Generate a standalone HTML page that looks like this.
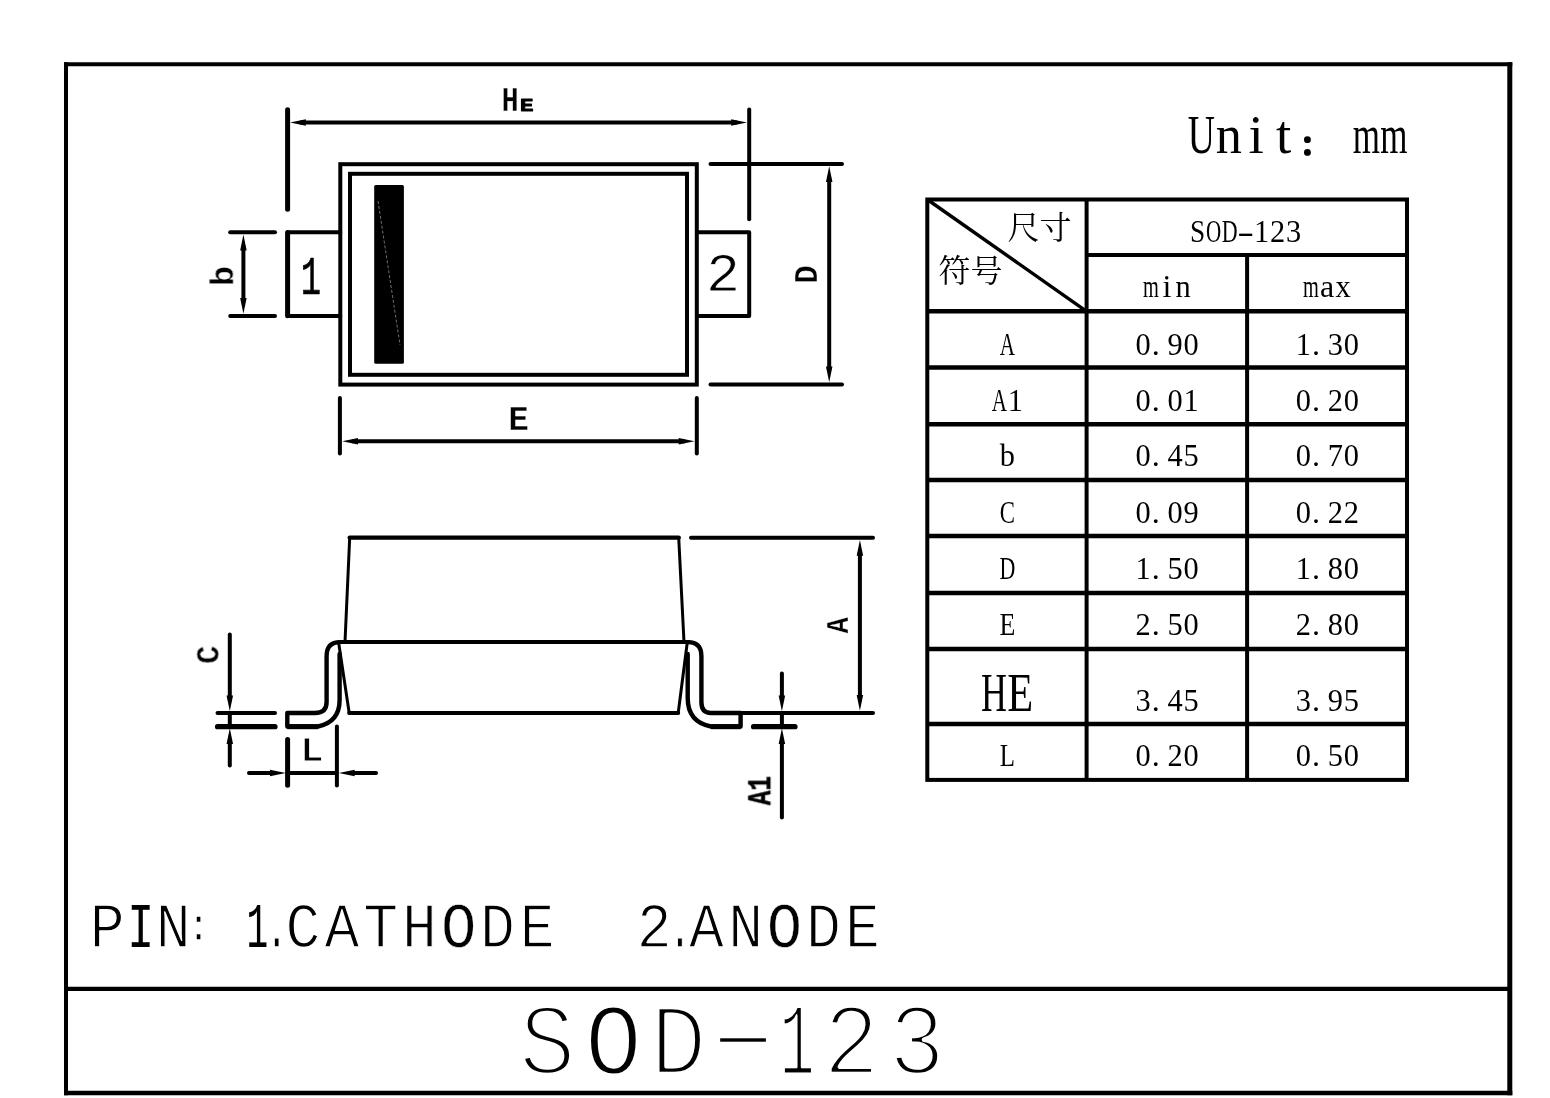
<!DOCTYPE html>
<html lang="zh">
<head>
<meta charset="utf-8">
<title>SOD-123 package outline</title>
<style>
html,body{margin:0;padding:0;background:#fff;}
body{width:1550px;height:1098px;overflow:hidden;}
svg{display:block;}
.ar{fill:#000;stroke:none;}
.ss{font-family:"Liberation Serif","Noto Serif CJK SC",serif;}
.cjk{font-family:"Liberation Serif","Noto Serif CJK SC","Noto Sans CJK SC",serif;}
.shx{font-family:"Liberation Mono","DejaVu Sans Mono",monospace;stroke:#fff;stroke-linejoin:round;}
.t1{stroke-width:0.8px;}
.t2{stroke-width:1.3px;}
.t3{stroke-width:4.4px;}
.lab.dk{stroke:#000;stroke-width:0.5px;}
.lab .sm{stroke:#000;stroke-width:0.9px;}
.t2 .o{stroke-width:0.4px;}
.t3 .o{stroke-width:2.8px;}
.t1 .n{stroke:#000;stroke-width:0.7px;}
.t2 .n{stroke:#000;stroke-width:0.2px;}
.t3 .n{stroke-width:3.2px;}
.lab{font-family:"Liberation Mono","DejaVu Sans Mono",monospace;font-weight:bold;stroke:#fff;stroke-width:0.4px;stroke-linejoin:round;}
</style>
</head>
<body>
<svg width="1550" height="1098" viewBox="0 0 1550 1098">
<rect width="1550" height="1098" fill="#fff"/>
<g stroke="#000" fill="none">
<g id="frame" stroke-linecap="square">
<line x1="66" y1="62.2" x2="66" y2="1095.2" stroke-width="4" stroke-linecap="butt" />
<line x1="1509.8" y1="62.2" x2="1509.8" y2="1095.2" stroke-width="5" stroke-linecap="butt" />
<line x1="64" y1="64.2" x2="1512.3" y2="64.2" stroke-width="4" stroke-linecap="butt" />
<line x1="64" y1="1093" x2="1512.3" y2="1093" stroke-width="4.4" stroke-linecap="butt" />
<line x1="66" y1="988.9" x2="1509.8" y2="988.9" stroke-width="4.4" stroke-linecap="butt" />
</g>
<g id="topview">
<rect x="340.3" y="164.2" width="356.5" height="220.4" stroke-width="4"/>
<rect x="350" y="173.8" width="337" height="201" stroke-width="4"/>
<rect x="374.2" y="185" width="29.7" height="178.7" rx="1.5" fill="#000" stroke="none"/>
<line x1="378" y1="201" x2="400" y2="345" stroke="#bbb" stroke-width="0.6" stroke-dasharray="3 2"/>
<path d="M340.3 232.3H287.7M287.7 316.1H340.3" stroke-width="4" stroke-linecap="round"/>
<line x1="287.6" y1="232.6" x2="287.6" y2="315.8" stroke-width="5" stroke-linecap="round" />
<path d="M696.8 232.3H749.2V316.1H696.8" stroke-width="4" stroke-linejoin="round"/>
<line x1="287.6" y1="109.8" x2="287.6" y2="209.3" stroke-width="5" stroke-linecap="round" />
<line x1="749.2" y1="109.5" x2="749.2" y2="219.2" stroke-width="4" stroke-linecap="round" />
<line x1="300" y1="122.6" x2="737" y2="122.6" stroke-width="4" stroke-linecap="butt" />
<polygon class="ar" points="290,122.6 305.8,119.35 305.8,125.85"/>
<polygon class="ar" points="747,122.6 731.2,119.35 731.2,125.85"/>
<line x1="710.5" y1="163.9" x2="842" y2="163.9" stroke-width="4" stroke-linecap="round" />
<line x1="710.5" y1="384.6" x2="842" y2="384.6" stroke-width="4" stroke-linecap="round" />
<line x1="829.2" y1="178" x2="829.2" y2="370" stroke-width="4" stroke-linecap="butt" />
<polygon class="ar" points="829.2,166.2 825.95,182 832.45,182"/>
<polygon class="ar" points="829.2,382.3 825.95,366.5 832.45,366.5"/>
<line x1="230.2" y1="232.3" x2="275" y2="232.3" stroke-width="4" stroke-linecap="round" />
<line x1="230.2" y1="316.1" x2="275" y2="316.1" stroke-width="4" stroke-linecap="round" />
<line x1="243.4" y1="246" x2="243.4" y2="302" stroke-width="4" stroke-linecap="butt" />
<polygon class="ar" points="243.4,234.6 240.15,250.4 246.65,250.4"/>
<polygon class="ar" points="243.4,313.8 240.15,298 246.65,298"/>
<line x1="339.9" y1="398" x2="339.9" y2="453.6" stroke-width="4" stroke-linecap="round" />
<line x1="696.8" y1="398" x2="696.8" y2="453.6" stroke-width="4" stroke-linecap="round" />
<line x1="352" y1="441.2" x2="685" y2="441.2" stroke-width="4" stroke-linecap="butt" />
<polygon class="ar" points="342.2,441.2 358,437.95 358,444.45"/>
<polygon class="ar" points="694.5,441.2 678.7,437.95 678.7,444.45"/>
</g>
<g id="sideview">
<line x1="349.7" y1="537.6" x2="678.7" y2="537.6" stroke-width="4.4" stroke-linecap="round" />
<line x1="349.7" y1="537.5" x2="345" y2="642" stroke-width="3" stroke-linecap="round" />
<line x1="678.7" y1="537.5" x2="684" y2="642" stroke-width="3" stroke-linecap="round" />
<line x1="338" y1="642.1" x2="690" y2="642.1" stroke-width="4" stroke-linecap="butt" />
<line x1="338.7" y1="643" x2="349.2" y2="713" stroke-width="3" stroke-linecap="round" />
<line x1="687.2" y1="643" x2="678.2" y2="713" stroke-width="3" stroke-linecap="round" />
<line x1="349.2" y1="713" x2="678.2" y2="713" stroke-width="4" stroke-linecap="round" />
<path d="M340 642.1 Q326.6 642.1 326.6 656 V702 Q326.6 713 315 713 H287.3 V726.5 H318 Q339.6 722 339.6 700 V654" stroke-width="4.4" stroke-linejoin="round" stroke-linecap="round"/>
<path d="M688 642.1 Q701.4 642.1 701.4 656 V702 Q701.4 713 711 713 H740.6 V726.5 H711 Q687.7 722 687.7 698 V654" stroke-width="4.4" stroke-linejoin="round" stroke-linecap="round"/>
<line x1="287.3" y1="726.7" x2="318" y2="726.7" stroke-width="5" stroke-linecap="butt" />
<line x1="711" y1="726.7" x2="740.6" y2="726.7" stroke-width="5" stroke-linecap="butt" />
<line x1="691" y1="537.7" x2="873" y2="537.7" stroke-width="4" stroke-linecap="round" />
<line x1="740.6" y1="713" x2="873" y2="713" stroke-width="4" stroke-linecap="round" />
<line x1="859.9" y1="552" x2="859.9" y2="698" stroke-width="4" stroke-linecap="butt" />
<polygon class="ar" points="859.9,540 856.65,555.8 863.15,555.8"/>
<polygon class="ar" points="859.9,710.7 856.65,694.9 863.15,694.9"/>
<line x1="217.5" y1="713" x2="275" y2="713" stroke-width="4" stroke-linecap="round" />
<line x1="217.5" y1="726.7" x2="275" y2="726.7" stroke-width="5.2" stroke-linecap="round" />
<line x1="229.8" y1="634.5" x2="229.8" y2="700" stroke-width="4" stroke-linecap="round" />
<line x1="229.8" y1="713" x2="229.8" y2="726.5" stroke-width="4" stroke-linecap="butt" />
<line x1="229.8" y1="740" x2="229.8" y2="765.5" stroke-width="4" stroke-linecap="round" />
<polygon class="ar" points="229.8,711.2 226.55,695.4 233.05,695.4"/>
<polygon class="ar" points="229.8,728.3 226.55,744.1 233.05,744.1"/>
<line x1="287.6" y1="739.5" x2="287.6" y2="785.2" stroke-width="5" stroke-linecap="round" />
<line x1="336.9" y1="726.5" x2="336.9" y2="785.6" stroke-width="4" stroke-linecap="round" />
<line x1="249" y1="772.9" x2="272" y2="772.9" stroke-width="4" stroke-linecap="round" />
<line x1="287.6" y1="772.9" x2="336.9" y2="772.9" stroke-width="4" stroke-linecap="butt" />
<line x1="352" y1="772.9" x2="376" y2="772.9" stroke-width="4" stroke-linecap="round" />
<polygon class="ar" points="285.8,772.9 270,769.65 270,776.15"/>
<polygon class="ar" points="338.8,772.9 354.6,769.65 354.6,776.15"/>
<line x1="753.5" y1="726.7" x2="795" y2="726.7" stroke-width="5.2" stroke-linecap="round" />
<line x1="781.9" y1="673.5" x2="781.9" y2="700" stroke-width="4" stroke-linecap="round" />
<line x1="781.9" y1="713" x2="781.9" y2="726.5" stroke-width="4" stroke-linecap="butt" />
<line x1="781.9" y1="741" x2="781.9" y2="817.6" stroke-width="4" stroke-linecap="round" />
<polygon class="ar" points="781.9,711.2 778.65,695.4 785.15,695.4"/>
<polygon class="ar" points="781.9,728.3 778.65,744.1 785.15,744.1"/>
</g>
<g id="table" stroke-width="4" stroke-linecap="square">
<rect x="927.3" y="199.5" width="479.7" height="580.4"/>
<line x1="1086.6" y1="199.5" x2="1086.6" y2="779.9" stroke-width="4" stroke-linecap="butt" />
<line x1="1247.1" y1="254.9" x2="1247.1" y2="779.9" stroke-width="4" stroke-linecap="butt" />
<line x1="1086.6" y1="254.9" x2="1407" y2="254.9" stroke-width="4" stroke-linecap="butt" />
<line x1="927.3" y1="311.3" x2="1407" y2="311.3" stroke-width="4.5" stroke-linecap="butt" />
<line x1="927.3" y1="367.6" x2="1407" y2="367.6" stroke-width="4.5" stroke-linecap="butt" />
<line x1="927.3" y1="424.2" x2="1407" y2="424.2" stroke-width="4.5" stroke-linecap="butt" />
<line x1="927.3" y1="479.9" x2="1407" y2="479.9" stroke-width="4.5" stroke-linecap="butt" />
<line x1="927.3" y1="536.1" x2="1407" y2="536.1" stroke-width="4.5" stroke-linecap="butt" />
<line x1="927.3" y1="593" x2="1407" y2="593" stroke-width="4.5" stroke-linecap="butt" />
<line x1="927.3" y1="649" x2="1407" y2="649" stroke-width="4.5" stroke-linecap="butt" />
<line x1="927.3" y1="723.9" x2="1407" y2="723.9" stroke-width="4.5" stroke-linecap="butt" />
<line x1="927.3" y1="199.5" x2="1086.6" y2="311.3" stroke-width="3.4" stroke-linecap="butt" />
</g>
</g>
<g fill="#000" style="opacity:.999">
<text class="ss" font-size="55"><tspan x="1187.64" y="153.2" textLength="27.23" lengthAdjust="spacingAndGlyphs">U</tspan><tspan x="1215.69" y="153.2" textLength="26.12" lengthAdjust="spacingAndGlyphs">n</tspan><tspan x="1248.61" y="153.2">i</tspan><tspan x="1276.11" y="153.2">t</tspan><tspan class="cjk" font-weight="700" stroke="#000" stroke-width="1.48" font-size="30.53" x="1299.24" y="155.18">：</tspan><tspan x="1352.64" y="153.2" textLength="27.23" lengthAdjust="spacingAndGlyphs">m</tspan><tspan x="1380.14" y="153.2" textLength="27.23" lengthAdjust="spacingAndGlyphs">m</tspan></text>
<text class="cjk" font-size="32" x="1007.5" y="239">尺寸</text>
<text class="cjk" font-size="32" x="938.5" y="281.5">符号</text>
<text class="ss" font-size="32"><tspan x="1190" y="242.4" textLength="15.2" lengthAdjust="spacingAndGlyphs">S</tspan><tspan x="1206" y="242.4" textLength="15.2" lengthAdjust="spacingAndGlyphs">O</tspan><tspan x="1221.68" y="242.4" textLength="15.84" lengthAdjust="spacingAndGlyphs">D</tspan><tspan x="1237.2" y="242.4" textLength="16.8" lengthAdjust="spacingAndGlyphs">-</tspan><tspan x="1254" y="242.4" textLength="15.2" lengthAdjust="spacingAndGlyphs">1</tspan><tspan x="1270" y="242.4" textLength="15.2" lengthAdjust="spacingAndGlyphs">2</tspan><tspan x="1286" y="242.4" textLength="15.2" lengthAdjust="spacingAndGlyphs">3</tspan></text>
<text class="ss" font-size="32"><tspan x="1143.08" y="297.2" textLength="15.84" lengthAdjust="spacingAndGlyphs">m</tspan><tspan x="1162.55" y="297.2">i</tspan><tspan x="1175.4" y="297.2" textLength="15.2" lengthAdjust="spacingAndGlyphs">n</tspan></text>
<text class="ss" font-size="32"><tspan x="1303.08" y="297.2" textLength="15.84" lengthAdjust="spacingAndGlyphs">m</tspan><tspan x="1319.9" y="297.2">a</tspan><tspan x="1335.4" y="297.2" textLength="15.2" lengthAdjust="spacingAndGlyphs">x</tspan></text>
<text class="ss" font-size="32"><tspan x="999.7" y="354.7" textLength="15.2" lengthAdjust="spacingAndGlyphs">A</tspan></text>
<text class="ss" font-size="32"><tspan x="1135.4" y="354.7" textLength="15.2" lengthAdjust="spacingAndGlyphs">0</tspan><tspan x="1151.8" y="354.7">.</tspan><tspan x="1167.4" y="354.7" textLength="15.2" lengthAdjust="spacingAndGlyphs">9</tspan><tspan x="1183.4" y="354.7" textLength="15.2" lengthAdjust="spacingAndGlyphs">0</tspan></text>
<text class="ss" font-size="32"><tspan x="1295.7" y="354.7" textLength="15.2" lengthAdjust="spacingAndGlyphs">1</tspan><tspan x="1312.1" y="354.7">.</tspan><tspan x="1327.7" y="354.7" textLength="15.2" lengthAdjust="spacingAndGlyphs">3</tspan><tspan x="1343.7" y="354.7" textLength="15.2" lengthAdjust="spacingAndGlyphs">0</tspan></text>
<text class="ss" font-size="32"><tspan x="991.7" y="410.5" textLength="15.2" lengthAdjust="spacingAndGlyphs">A</tspan><tspan x="1007.7" y="410.5" textLength="15.2" lengthAdjust="spacingAndGlyphs">1</tspan></text>
<text class="ss" font-size="32"><tspan x="1135.4" y="410.5" textLength="15.2" lengthAdjust="spacingAndGlyphs">0</tspan><tspan x="1151.8" y="410.5">.</tspan><tspan x="1167.4" y="410.5" textLength="15.2" lengthAdjust="spacingAndGlyphs">0</tspan><tspan x="1183.4" y="410.5" textLength="15.2" lengthAdjust="spacingAndGlyphs">1</tspan></text>
<text class="ss" font-size="32"><tspan x="1295.7" y="410.5" textLength="15.2" lengthAdjust="spacingAndGlyphs">0</tspan><tspan x="1312.1" y="410.5">.</tspan><tspan x="1327.7" y="410.5" textLength="15.2" lengthAdjust="spacingAndGlyphs">2</tspan><tspan x="1343.7" y="410.5" textLength="15.2" lengthAdjust="spacingAndGlyphs">0</tspan></text>
<text class="ss" font-size="32"><tspan x="999.7" y="466.4" textLength="15.2" lengthAdjust="spacingAndGlyphs">b</tspan></text>
<text class="ss" font-size="32"><tspan x="1135.4" y="466.4" textLength="15.2" lengthAdjust="spacingAndGlyphs">0</tspan><tspan x="1151.8" y="466.4">.</tspan><tspan x="1167.4" y="466.4" textLength="15.2" lengthAdjust="spacingAndGlyphs">4</tspan><tspan x="1183.4" y="466.4" textLength="15.2" lengthAdjust="spacingAndGlyphs">5</tspan></text>
<text class="ss" font-size="32"><tspan x="1295.7" y="466.4" textLength="15.2" lengthAdjust="spacingAndGlyphs">0</tspan><tspan x="1312.1" y="466.4">.</tspan><tspan x="1327.7" y="466.4" textLength="15.2" lengthAdjust="spacingAndGlyphs">7</tspan><tspan x="1343.7" y="466.4" textLength="15.2" lengthAdjust="spacingAndGlyphs">0</tspan></text>
<text class="ss" font-size="32"><tspan x="999.7" y="522.8" textLength="15.2" lengthAdjust="spacingAndGlyphs">C</tspan></text>
<text class="ss" font-size="32"><tspan x="1135.4" y="522.8" textLength="15.2" lengthAdjust="spacingAndGlyphs">0</tspan><tspan x="1151.8" y="522.8">.</tspan><tspan x="1167.4" y="522.8" textLength="15.2" lengthAdjust="spacingAndGlyphs">0</tspan><tspan x="1183.4" y="522.8" textLength="15.2" lengthAdjust="spacingAndGlyphs">9</tspan></text>
<text class="ss" font-size="32"><tspan x="1295.7" y="522.8" textLength="15.2" lengthAdjust="spacingAndGlyphs">0</tspan><tspan x="1312.1" y="522.8">.</tspan><tspan x="1327.7" y="522.8" textLength="15.2" lengthAdjust="spacingAndGlyphs">2</tspan><tspan x="1343.7" y="522.8" textLength="15.2" lengthAdjust="spacingAndGlyphs">2</tspan></text>
<text class="ss" font-size="32"><tspan x="999.38" y="579" textLength="15.84" lengthAdjust="spacingAndGlyphs">D</tspan></text>
<text class="ss" font-size="32"><tspan x="1135.4" y="579" textLength="15.2" lengthAdjust="spacingAndGlyphs">1</tspan><tspan x="1151.8" y="579">.</tspan><tspan x="1167.4" y="579" textLength="15.2" lengthAdjust="spacingAndGlyphs">5</tspan><tspan x="1183.4" y="579" textLength="15.2" lengthAdjust="spacingAndGlyphs">0</tspan></text>
<text class="ss" font-size="32"><tspan x="1295.7" y="579" textLength="15.2" lengthAdjust="spacingAndGlyphs">1</tspan><tspan x="1312.1" y="579">.</tspan><tspan x="1327.7" y="579" textLength="15.2" lengthAdjust="spacingAndGlyphs">8</tspan><tspan x="1343.7" y="579" textLength="15.2" lengthAdjust="spacingAndGlyphs">0</tspan></text>
<text class="ss" font-size="32"><tspan x="999.38" y="635.1" textLength="15.84" lengthAdjust="spacingAndGlyphs">E</tspan></text>
<text class="ss" font-size="32"><tspan x="1135.4" y="635.1" textLength="15.2" lengthAdjust="spacingAndGlyphs">2</tspan><tspan x="1151.8" y="635.1">.</tspan><tspan x="1167.4" y="635.1" textLength="15.2" lengthAdjust="spacingAndGlyphs">5</tspan><tspan x="1183.4" y="635.1" textLength="15.2" lengthAdjust="spacingAndGlyphs">0</tspan></text>
<text class="ss" font-size="32"><tspan x="1295.7" y="635.1" textLength="15.2" lengthAdjust="spacingAndGlyphs">2</tspan><tspan x="1312.1" y="635.1">.</tspan><tspan x="1327.7" y="635.1" textLength="15.2" lengthAdjust="spacingAndGlyphs">8</tspan><tspan x="1343.7" y="635.1" textLength="15.2" lengthAdjust="spacingAndGlyphs">0</tspan></text>
<text class="ss" font-size="32"><tspan x="1135.4" y="710.6" textLength="15.2" lengthAdjust="spacingAndGlyphs">3</tspan><tspan x="1151.8" y="710.6">.</tspan><tspan x="1167.4" y="710.6" textLength="15.2" lengthAdjust="spacingAndGlyphs">4</tspan><tspan x="1183.4" y="710.6" textLength="15.2" lengthAdjust="spacingAndGlyphs">5</tspan></text>
<text class="ss" font-size="32"><tspan x="1295.7" y="710.6" textLength="15.2" lengthAdjust="spacingAndGlyphs">3</tspan><tspan x="1312.1" y="710.6">.</tspan><tspan x="1327.7" y="710.6" textLength="15.2" lengthAdjust="spacingAndGlyphs">9</tspan><tspan x="1343.7" y="710.6" textLength="15.2" lengthAdjust="spacingAndGlyphs">5</tspan></text>
<text class="ss" font-size="32"><tspan x="999.7" y="766.3" textLength="15.2" lengthAdjust="spacingAndGlyphs">L</tspan></text>
<text class="ss" font-size="32"><tspan x="1135.4" y="766.3" textLength="15.2" lengthAdjust="spacingAndGlyphs">0</tspan><tspan x="1151.8" y="766.3">.</tspan><tspan x="1167.4" y="766.3" textLength="15.2" lengthAdjust="spacingAndGlyphs">2</tspan><tspan x="1183.4" y="766.3" textLength="15.2" lengthAdjust="spacingAndGlyphs">0</tspan></text>
<text class="ss" font-size="32"><tspan x="1295.7" y="766.3" textLength="15.2" lengthAdjust="spacingAndGlyphs">0</tspan><tspan x="1312.1" y="766.3">.</tspan><tspan x="1327.7" y="766.3" textLength="15.2" lengthAdjust="spacingAndGlyphs">5</tspan><tspan x="1343.7" y="766.3" textLength="15.2" lengthAdjust="spacingAndGlyphs">0</tspan></text>
<text class="ss" font-size="54"><tspan x="980.93" y="711.2" textLength="25.94" lengthAdjust="spacingAndGlyphs">H</tspan><tspan x="1007.13" y="711.2" textLength="25.94" lengthAdjust="spacingAndGlyphs">E</tspan></text>
<text class="shx t1" font-size="54.5"><tspan x="300.86" y="294.2" textLength="20.28" lengthAdjust="spacingAndGlyphs" class="n">1</tspan></text>
<text class="shx t1" font-size="53.5"><tspan x="705.98" y="291" textLength="34.03" lengthAdjust="spacingAndGlyphs">2</tspan></text>
<text class="lab"><tspan font-size="35.2" x="501.54" y="111.3" textLength="17.32" lengthAdjust="spacingAndGlyphs">H</tspan><tspan class="sm" font-size="18" x="519.95" y="111.2" textLength="13.5" lengthAdjust="spacingAndGlyphs">E</tspan></text>
<text class="lab" font-size="34.5" text-anchor="middle" transform="translate(518.5,429.8) scale(1,1)">E</text>
<text class="lab" font-size="34" text-anchor="middle" transform="translate(233.3,276) rotate(-90) scale(1,1)">b</text>
<text class="lab" font-size="34" text-anchor="middle" transform="translate(817.3,274.5) rotate(-90) scale(0.9,1)">D</text>
<text class="lab" font-size="32" text-anchor="middle" transform="translate(847.7,625.4) rotate(-90) scale(0.85,1)">A</text>
<text class="lab" font-size="34" text-anchor="middle" transform="translate(218.7,654.8) rotate(-90) scale(0.9,1)">C</text>
<text class="lab" style="stroke-width:1.1px" font-size="35.4" text-anchor="middle" transform="translate(312,761.3) scale(1.12,1)">L</text>
<text class="lab dk" font-size="33" text-anchor="middle" transform="translate(770.3,790.7) rotate(-90) scale(0.74,1)">A1</text>
<text class="shx t2" font-size="63.2"><tspan x="89.75" y="946.6" textLength="34.89" lengthAdjust="spacingAndGlyphs">P</tspan><tspan x="127.44" y="946.6" textLength="26.52" lengthAdjust="spacingAndGlyphs" class="n">I</tspan><tspan x="155.85" y="946.6" textLength="34.89" lengthAdjust="spacingAndGlyphs">N</tspan><tspan x="185.42" y="939.96" textLength="26.17" lengthAdjust="spacingAndGlyphs" font-size="43.61">:</tspan> <tspan x="246.48" y="946.6" textLength="21.63" lengthAdjust="spacingAndGlyphs" class="n">1</tspan><tspan x="264.59" y="946.6" textLength="24.42" lengthAdjust="spacingAndGlyphs">.</tspan><tspan x="285.55" y="946.6" textLength="34.89" lengthAdjust="spacingAndGlyphs">C</tspan><tspan x="324.45" y="946.6" textLength="34.89" lengthAdjust="spacingAndGlyphs">A</tspan><tspan x="363.15" y="946.6" textLength="34.89" lengthAdjust="spacingAndGlyphs">T</tspan><tspan x="402.05" y="946.6" textLength="34.89" lengthAdjust="spacingAndGlyphs">H</tspan><tspan x="441.35" y="946.6" textLength="34.89" lengthAdjust="spacingAndGlyphs" class="o">O</tspan><tspan x="480.05" y="946.6" textLength="34.89" lengthAdjust="spacingAndGlyphs">D</tspan><tspan x="519.85" y="946.6" textLength="34.89" lengthAdjust="spacingAndGlyphs">E</tspan> <tspan x="636.75" y="946.6" textLength="34.89" lengthAdjust="spacingAndGlyphs">2</tspan><tspan x="667.79" y="946.6" textLength="24.42" lengthAdjust="spacingAndGlyphs">.</tspan><tspan x="689.05" y="946.6" textLength="34.89" lengthAdjust="spacingAndGlyphs">A</tspan><tspan x="728.35" y="946.6" textLength="34.89" lengthAdjust="spacingAndGlyphs">N</tspan><tspan x="767.05" y="946.6" textLength="34.89" lengthAdjust="spacingAndGlyphs" class="o">O</tspan><tspan x="806.05" y="946.6" textLength="34.89" lengthAdjust="spacingAndGlyphs">D</tspan><tspan x="845.05" y="946.6" textLength="34.89" lengthAdjust="spacingAndGlyphs">E</tspan></text>
<text class="shx t3" font-size="102.8"><tspan x="519.02" y="1073.5" textLength="56.75" lengthAdjust="spacingAndGlyphs">S</tspan><tspan x="585.02" y="1073.5" textLength="56.75" lengthAdjust="spacingAndGlyphs" class="o">O</tspan><tspan x="650.02" y="1073.5" textLength="56.75" lengthAdjust="spacingAndGlyphs">D</tspan><tspan x="683.41" y="1066.51" textLength="119.19" lengthAdjust="spacingAndGlyphs">-</tspan><tspan x="779.41" y="1073.5" textLength="35.19" lengthAdjust="spacingAndGlyphs" class="n">1</tspan><tspan x="822.92" y="1073.5" textLength="56.75" lengthAdjust="spacingAndGlyphs">2</tspan><tspan x="888.42" y="1073.5" textLength="56.75" lengthAdjust="spacingAndGlyphs">3</tspan></text>
</g>
</svg>
</body>
</html>
